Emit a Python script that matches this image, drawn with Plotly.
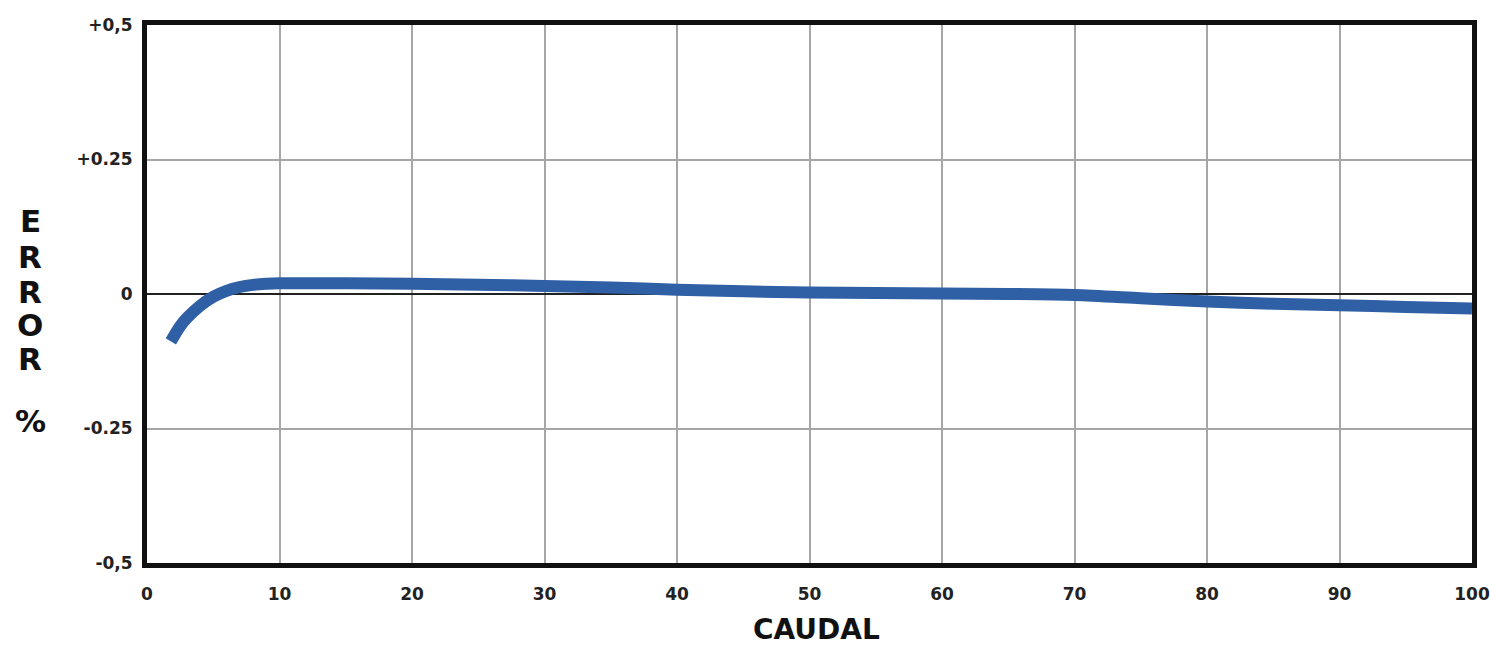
import plotly.graph_objects as go

# Data
caudal = [1.8, 2.5, 3, 4, 5, 6, 7, 8, 9, 10, 15, 20, 25, 30, 35, 40, 45, 50,
          55, 60, 65, 70, 75, 80, 85, 90, 95, 100]
error = [-0.088, -0.060, -0.045, -0.022, -0.005, 0.006, 0.013, 0.017, 0.019,
         0.020, 0.020, 0.019, 0.017, 0.015, 0.012, 0.008, 0.005, 0.003, 0.002,
         0.001, 0.000, -0.002, -0.008, -0.014, -0.018, -0.021, -0.024, -0.027]

x_ticks = [0, 10, 20, 30, 40, 50, 60, 70, 80, 90, 100]
y_ticks = [0.5, 0.25, 0, -0.25, -0.5]
y_tick_labels = ["+0,5", "+0.25", "0", "-0.25", "-0,5"]
y_title_letters = ["E", "R", "R", "O", "R", "%"]

W, H = 1490, 646
L, R, T, B = 147, 18, 25, 83
plot_h = H - T - B
FONT = "DejaVu Sans, Liberation Sans, Arial, sans-serif"

fig = go.Figure()
fig.add_trace(go.Scatter(
    x=caudal, y=error, mode="lines",
    line=dict(color="#2f5fa5", width=12, shape="spline", smoothing=0.8),
    hoverinfo="skip", showlegend=False,
))

tick_font = dict(family=FONT, size=17, color="#222222", weight="bold")

fig.update_xaxes(
    range=[0, 100], tickvals=x_ticks, ticktext=[str(v) for v in x_ticks],
    showgrid=True, gridcolor="#a6a6a6", gridwidth=1.5,
    showline=True, linecolor="#111111", linewidth=5, mirror=True,
    zeroline=False, ticks="", ticklabelstandoff=12, tickfont=tick_font,
    ticklabeloverflow="allow", automargin=False,
)
fig.update_yaxes(
    range=[-0.5, 0.5], tickvals=y_ticks, ticktext=y_tick_labels,
    showgrid=True, gridcolor="#a6a6a6", gridwidth=1.5,
    showline=True, linecolor="#111111", linewidth=5, mirror=True,
    zeroline=True, zerolinecolor="#222222", zerolinewidth=2,
    ticks="", ticklabelstandoff=6, tickfont=tick_font,
    ticklabeloverflow="allow", automargin=False,
)

# vertical stacked y title letters (pixel centres from the reference)
letter_px = [221, 257, 292, 325, 359, 421]
annotations = []
for letter, py in zip(y_title_letters, letter_px):
    annotations.append(dict(
        text=letter, xref="paper", yref="paper", x=0, xshift=-(L - 30),
        y=(H - B - py) / plot_h, showarrow=False,
        xanchor="center", yanchor="middle",
        font=dict(family=FONT, size=31, color="#111111", weight="bold"),
    ))
annotations.append(dict(
    text="CAUDAL", xref="paper", yref="paper", x=(816 - L) / (W - L - R),
    y=(H - B - 629) / plot_h, showarrow=False, xanchor="center", yanchor="middle",
    font=dict(family=FONT, size=28, color="#111111", weight="bold"),
))

fig.update_layout(
    width=W, height=H,
    margin=dict(l=L, r=R, t=T, b=B),
    paper_bgcolor="white", plot_bgcolor="white",
    annotations=annotations,
)

fig.write_html("out.html", config={"displayModeBar": False},
               post_script="document.body.style.margin='0';")
